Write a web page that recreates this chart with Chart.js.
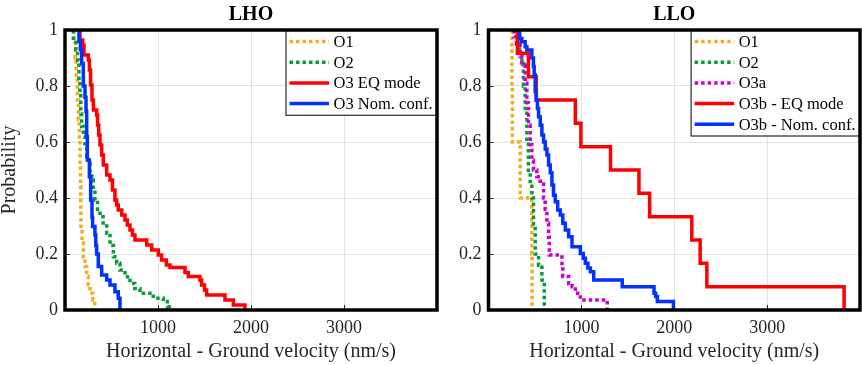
<!DOCTYPE html>
<html><head><meta charset="utf-8">
<script src="https://cdn.jsdelivr.net/npm/chart.js@4/dist/chart.umd.min.js"></script>
<style>
html,body{margin:0;padding:0;background:#fff;}
#wrap{position:relative;width:862px;height:365px;overflow:hidden;background:#fff;}
#c1{position:absolute;left:0;top:0;}
#c2{position:absolute;left:440px;top:0;}
</style></head><body>
<div id="wrap"><canvas id="c1" width="440" height="365"></canvas><canvas id="c2" width="422" height="365"></canvas></div>
<script>
// ---------- data (velocity in nm/s where probability steps, probability level after the step) ----------
const xTickValues = [1000, 2000, 3000];
const yTickValues = [0, 0.2, 0.4, 0.6, 0.8, 1];
const yTickLabels = ['0', '0.2', '0.4', '0.6', '0.8', '1'];
const panelTitles = ['LHO', 'LLO'];
const xAxisTitle = 'Horizontal - Ground velocity (nm/s)';
const yAxisTitle = 'Probability';

const lhoLabels = ['O1', 'O2', 'O3 EQ mode', 'O3 Nom. conf.'];
const lloLabels = ['O1', 'O2', 'O3a', 'O3b - EQ mode', 'O3b - Nom. conf.'];

// LHO
const lhoO1V = [97, 97, 110, 120, 133, 145, 154, 162, 168, 170, 172, 183, 197, 215, 233, 250, 269, 300, 320];
const lhoO1P = [1, 0.96, 0.90, 0.83, 0.75, 0.68, 0.61, 0.52, 0.44, 0.36, 0.29, 0.24, 0.19, 0.155, 0.12, 0.09, 0.06, 0.036, 0];

const lhoO2V = [90, 90, 118, 136, 150, 161, 170, 179, 197, 215, 233, 251, 269, 287, 305, 322, 350, 376, 410, 448, 484, 520, 555, 591, 645, 699, 750, 806, 949, 1057, 1100, 1120];
const lhoO2P = [1, 0.964, 0.929, 0.893, 0.82, 0.774, 0.70, 0.655, 0.62, 0.583, 0.55, 0.524, 0.49, 0.464, 0.43, 0.393, 0.36, 0.333, 0.30, 0.274, 0.23, 0.19, 0.167, 0.143, 0.119, 0.095, 0.077, 0.06, 0.042, 0.03, 0.012, 0];

const lhoO3EqV = [161, 161, 190, 204, 251, 262, 275, 290, 305, 340, 350, 362, 376, 394, 412, 448, 484, 510, 537, 555, 573, 610, 645, 670, 699, 725, 752, 878, 932, 1003, 1039, 1090, 1129, 1290, 1326, 1450, 1469, 1500, 1523, 1720, 1810, 1935];
const lhoO3EqP = [1, 0.964, 0.946, 0.911, 0.893, 0.857, 0.804, 0.75, 0.714, 0.696, 0.661, 0.625, 0.589, 0.554, 0.518, 0.482, 0.464, 0.429, 0.393, 0.375, 0.357, 0.339, 0.321, 0.304, 0.286, 0.268, 0.25, 0.232, 0.214, 0.196, 0.179, 0.161, 0.152, 0.134, 0.12, 0.107, 0.089, 0.071, 0.054, 0.036, 0.018, 0];

const lhoO3NomV = [150, 150, 165, 179, 197, 215, 226, 233, 240, 262, 276, 290, 297, 322, 331, 340, 358, 394, 448, 484, 537, 573, 591];
const lhoO3NomP = [1, 0.96, 0.93, 0.88, 0.80, 0.76, 0.71, 0.62, 0.536, 0.476, 0.393, 0.33, 0.298, 0.268, 0.23, 0.20, 0.155, 0.125, 0.107, 0.089, 0.065, 0.042, 0];

// LLO
const lloO1V = [252, 252, 257, 341, 467, 470];
const lloO1P = [1, 0.8, 0.6, 0.4, 0.2, 0];

const lloO2V = [312, 312, 335, 359, 376, 395, 413, 430, 449, 467, 484, 503, 539, 575, 600];
const lloO2P = [1, 0.96, 0.93, 0.88, 0.80, 0.71, 0.61, 0.49, 0.45, 0.40, 0.30, 0.20, 0.16, 0.107, 0];

const lloO3aV = [276, 276, 300, 341, 359, 395, 413, 430, 449, 467, 484, 520, 557, 593, 610, 629, 647, 655, 791, 800, 863, 900, 935, 989, 1278];
const lloO3aP = [1, 0.976, 0.95, 0.905, 0.875, 0.81, 0.74, 0.66, 0.59, 0.535, 0.50, 0.476, 0.45, 0.40, 0.36, 0.31, 0.26, 0.196, 0.16, 0.12, 0.095, 0.083, 0.06, 0.036, 0];

const lloO3bEqV = [311, 311, 430, 514, 935, 995, 1314, 1620, 1735, 2189, 2279, 2351, 3829];
const lloO3bEqP = [1, 0.917, 0.833, 0.75, 0.667, 0.583, 0.5, 0.417, 0.333, 0.25, 0.167, 0.083, 0];

const lloO3bNomV = [335, 335, 359, 395, 413, 467, 484, 492, 503, 514, 527, 539, 557, 575, 593, 611, 629, 647, 665, 683, 700, 719, 745, 773, 800, 827, 863, 899, 989, 1020, 1043, 1070, 1097, 1133, 1440, 1782, 1800, 1818, 1991];
const lloO3bNomP = [1, 0.97, 0.958, 0.94, 0.929, 0.90, 0.87, 0.84, 0.78, 0.75, 0.72, 0.69, 0.66, 0.625, 0.60, 0.575, 0.554, 0.518, 0.49, 0.446, 0.41, 0.387, 0.357, 0.339, 0.31, 0.286, 0.262, 0.226, 0.202, 0.185, 0.167, 0.15, 0.137, 0.107, 0.083, 0.06, 0.048, 0.03, 0];

// ---------- styles ----------
const C_ORANGE = '#EDB120', C_GREEN = '#0A9A3C', C_MAG = '#CC00CC', C_RED = '#FF0000', C_BLUE = '#0033FF';
const DOT = [3.5, 3];
const LW = 3.5;
const FONT = "'Liberation Serif', 'Times New Roman', Times, serif";
const TXT = '#262626';

function pts(v, p) { return v.map((x, i) => ({ x: x, y: p[i] })); }

function ds(label, v, p, color, dotted, idx, n) {
  return {
    label: label, data: pts(v, p), borderColor: color, backgroundColor: color,
    borderWidth: LW, borderDash: dotted ? DOT : [], borderCapStyle: 'butt', borderJoinStyle: 'miter',
    stepped: 'before', pointRadius: 0, pointHoverRadius: 0, fill: false, tension: 0,
    order: n - idx
  };
}

const frameLegend = {
  id: 'frameLegend',
  afterDraw(chart) {
    const ctx = chart.ctx, a = chart.chartArea;
    const xs = chart.scales.x, ys = chart.scales.y;
    ctx.save();
    // inward tick marks
    ctx.strokeStyle = TXT; ctx.lineWidth = 1;
    ctx.beginPath();
    xTickValues.forEach(v => {
      const px = Math.round(xs.getPixelForValue(v)) + 0.5;
      ctx.moveTo(px, a.bottom); ctx.lineTo(px, a.bottom - 5);
    });
    yTickValues.forEach(v => {
      const py = Math.round(ys.getPixelForValue(v)) + 0.5;
      ctx.moveTo(a.left, py); ctx.lineTo(a.left + 5, py);
    });
    ctx.stroke();
    // legend
    const dsets = chart.data.datasets;
    ctx.font = '16.5px ' + FONT;
    let maxW = 0;
    dsets.forEach(d => { maxW = Math.max(maxW, ctx.measureText(d.label).width); });
    const rowH = 20.7, padL = 3.5, lineLen = 39.5, gap = 4.5, padR = 4.5;
    const bw = padL + lineLen + gap + maxW + padR;
    const bh = dsets.length * rowH + 2.5;
    const bx = a.right - bw, by = a.top;
    ctx.fillStyle = '#fff';
    ctx.fillRect(bx, by, bw, bh);
    ctx.strokeStyle = '#3a3a3a'; ctx.lineWidth = 1.3;
    ctx.strokeRect(bx, by, bw, bh);
    dsets.forEach((d, i) => {
      const cy = by + 11.5 + i * rowH;
      ctx.beginPath();
      ctx.strokeStyle = d.borderColor; ctx.lineWidth = LW; ctx.lineCap = 'butt';
      ctx.setLineDash(d.borderDash || []);
      ctx.moveTo(bx + padL, cy); ctx.lineTo(bx + padL + lineLen, cy);
      ctx.stroke();
      ctx.setLineDash([]);
      ctx.fillStyle = '#000'; ctx.textBaseline = 'middle'; ctx.textAlign = 'left';
      ctx.fillText(d.label, bx + padL + lineLen + gap, cy + 1);
    });
    // frame
    ctx.strokeStyle = '#000'; ctx.lineWidth = 3.5;
    ctx.strokeRect(a.left, a.top, a.right - a.left, a.bottom - a.top);
    ctx.restore();
  }
};

function makeChart(canvasId, title, datasets, yAxisWidth, padRight, showYTitle) {
  return new Chart(document.getElementById(canvasId), {
    type: 'line',
    data: { datasets: datasets },
    plugins: [frameLegend],
    options: {
      responsive: false, animation: false, devicePixelRatio: 1,
      layout: { padding: { left: 0, right: padRight, top: 0, bottom: 0 } },
      plugins: {
        legend: { display: false }, tooltip: { enabled: false },
        title: { display: true, text: title, fullSize: false, color: '#000',
          font: { family: FONT, size: 20, weight: 'bold', lineHeight: 1.2 }, padding: { top: 3, bottom: 3 } }
      },
      scales: {
        x: {
          type: 'linear', min: 0, max: 4000,
          afterBuildTicks: s => { s.ticks = xTickValues.map(v => ({ value: v })); },
          afterFit: s => { s.height = 55; },
          grid: { color: '#e2e2e2', lineWidth: 1, drawTicks: false },
          border: { display: false },
          ticks: { color: TXT, padding: 7, maxRotation: 0, autoSkip: false,
            font: { family: FONT, size: 18 }, callback: v => String(v) },
          title: { display: true, text: xAxisTitle, color: TXT,
            font: { family: FONT, size: 20, lineHeight: 1.2 }, padding: { top: 0, bottom: 1.5 } }
        },
        y: {
          type: 'linear', min: 0, max: 1,
          afterBuildTicks: s => { s.ticks = yTickValues.map(v => ({ value: v })); },
          afterFit: s => { s.width = yAxisWidth; },
          grid: { color: '#e2e2e2', lineWidth: 1, drawTicks: false },
          border: { display: false },
          ticks: { color: TXT, padding: 7, autoSkip: false,
            font: { family: FONT, size: 18 }, callback: (v, i) => yTickLabels[i] },
          title: { display: showYTitle, text: yAxisTitle, color: TXT,
            font: { family: FONT, size: 20, lineHeight: 1.0 }, padding: { top: 0, bottom: 0 } }
        }
      }
    }
  });
}

const lhoSets = [
  ds(lhoLabels[0], lhoO1V, lhoO1P, C_ORANGE, true, 0, 4),
  ds(lhoLabels[1], lhoO2V, lhoO2P, C_GREEN, true, 1, 4),
  ds(lhoLabels[2], lhoO3EqV, lhoO3EqP, C_RED, false, 2, 4),
  ds(lhoLabels[3], lhoO3NomV, lhoO3NomP, C_BLUE, false, 3, 4)
];
const lloSets = [
  ds(lloLabels[0], lloO1V, lloO1P, C_ORANGE, true, 0, 5),
  ds(lloLabels[1], lloO2V, lloO2P, C_GREEN, true, 1, 5),
  ds(lloLabels[2], lloO3aV, lloO3aP, C_MAG, true, 2, 5),
  ds(lloLabels[3], lloO3bEqV, lloO3bEqP, C_RED, false, 3, 5),
  ds(lloLabels[4], lloO3bNomV, lloO3bNomP, C_BLUE, false, 4, 5)
];

makeChart('c1', panelTitles[0], lhoSets, 65, 3, true);
makeChart('c2', panelTitles[1], lloSets, 48.5, 2, false);
</script>
</body></html>
